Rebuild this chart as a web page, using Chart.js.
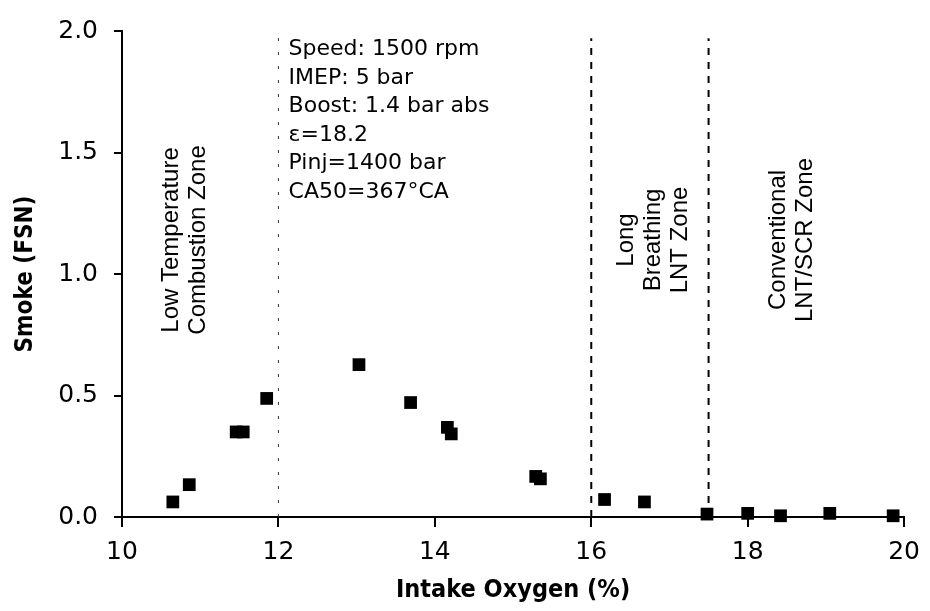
<!DOCTYPE html>
<html>
<head>
<meta charset="utf-8">
<script src="https://cdn.jsdelivr.net/npm/chart.js@4.4.1/dist/chart.umd.min.js"></script>
<style>
  body { margin: 0; background: #fff; }
  #wrap { width: 930px; height: 611px; }
</style>
</head>
<body>
<div id="wrap"><canvas id="smoke-chart" width="930" height="611"></canvas></div>
<script>
// intake oxygen (%) vs smoke (FSN)
const oxygen = [10.65, 10.86, 11.46, 11.55, 11.85, 13.03, 13.69, 14.16, 14.21, 15.29, 15.35, 16.17, 16.68, 17.48, 18.00, 18.42, 19.05, 19.86];
const smoke = [0.062, 0.133, 0.35, 0.35, 0.488, 0.627, 0.471, 0.369, 0.342, 0.167, 0.157, 0.072, 0.062, 0.012, 0.015, 0.005, 0.015, 0.005];

const xTicks = [10, 12, 14, 16, 18, 20];
const yTicks = [0, 0.5, 1.0, 1.5, 2.0];

// zone boundaries
const dottedLineX = 12;
const dashedLinesX = [16, 17.5];

const infoLines = ["Speed: 1500 rpm", "IMEP: 5 bar", "Boost: 1.4 bar abs", "\u03b5=18.2", "Pinj=1400 bar", "CA50=367\u00b0CA"];

const zoneLabels = [
  { x: 10.81, lines: ["Low Temperature", "Combustion Zone"] },
  { x: 16.79, lines: ["Long", "Breathing", "LNT Zone"] },
  { x: 18.56, lines: ["Conventional", "LNT/SCR Zone"] }
];

const tickFont = "DejaVu Sans";
const titleFont = "'DejaVu Sans Condensed', 'DejaVu Sans'";

const points = oxygen.map((x, i) => ({ x: x, y: smoke[i] }));

const lineSets = [
  {
    type: "line",
    data: [{ x: dottedLineX, y: 0 }, { x: dottedLineX, y: 2 }],
    borderColor: "#333",
    borderWidth: 1,
    borderDash: [3, 11],
    pointRadius: 0,
    showLine: true
  }
].concat(dashedLinesX.map(x => ({
  type: "line",
  data: [{ x: x, y: 0 }, { x: x, y: 1.97 }],
  borderColor: "#000",
  borderWidth: 2,
  borderDash: [7, 7],
  pointRadius: 0,
  showLine: true
})));

const textPlugin = {
  id: "zoneText",
  afterDatasetsDraw(chart) {
    const ctx = chart.ctx;
    const xs = chart.scales.x;
    const ys = chart.scales.y;
    ctx.save();
    ctx.fillStyle = "#000";

    // run conditions block
    ctx.font = "22px " + tickFont;
    ctx.textAlign = "left";
    ctx.textBaseline = "middle";
    const left = xs.getPixelForValue(12.13);
    const top = ys.getPixelForValue(1.925);
    infoLines.forEach((t, i) => ctx.fillText(t, left, top + i * 28.6));

    // rotated zone labels
    ctx.font = "24px 'Liberation Sans'";
    ctx.textAlign = "center";
    const midY = ys.getPixelForValue(1.14);
    zoneLabels.forEach(z => {
      const cx = xs.getPixelForValue(z.x);
      const n = z.lines.length;
      z.lines.forEach((t, i) => {
        const px = cx + (i - (n - 1) / 2) * 27;
        ctx.save();
        ctx.translate(px, midY);
        ctx.rotate(-Math.PI / 2);
        ctx.fillText(t, 0, 0);
        ctx.restore();
      });
    });
    ctx.restore();
  }
};

new Chart(document.getElementById("smoke-chart").getContext("2d"), {
  type: "scatter",
  data: {
    datasets: [
      {
        label: "Smoke",
        data: points,
        pointStyle: "rect",
        pointRadius: 9,
        pointHoverRadius: 9,
        backgroundColor: "#000",
        borderColor: "#000",
        borderWidth: 0,
        clip: false
      }
    ].concat(lineSets)
  },
  options: {
    responsive: false,
    animation: false,
    events: [],
    layout: { padding: { top: 18, right: 23, left: 0, bottom: 0 } },
    plugins: {
      legend: { display: false },
      tooltip: { enabled: false }
    },
    scales: {
      x: {
        type: "linear",
        min: 10,
        max: 20,
        afterBuildTicks: axis => { axis.ticks = xTicks.map(v => ({ value: v })); },
        afterFit: axis => { axis.height = 94; },
        ticks: {
          color: "#000",
          font: { family: tickFont, size: 25 },
          padding: 10,
          maxRotation: 0
        },
        grid: { display: true, drawOnChartArea: false, drawTicks: true, tickLength: 10, color: "#000", lineWidth: 2 },
        border: { display: true, color: "#000", width: 2 },
        title: {
          display: true,
          text: "Intake Oxygen (%)",
          color: "#000",
          font: { family: titleFont, size: 25, weight: "bold" },
          padding: { top: 0, bottom: 6 }
        }
      },
      y: {
        type: "linear",
        min: 0,
        max: 2,
        afterBuildTicks: axis => { axis.ticks = yTicks.map(v => ({ value: v })); },
        afterFit: axis => { axis.width = 122; },
        ticks: {
          color: "#000",
          font: { family: tickFont, size: 25 },
          padding: 16,
          callback: v => v.toFixed(1)
        },
        grid: { display: true, drawOnChartArea: false, drawTicks: true, tickLength: 8, color: "#000", lineWidth: 2 },
        border: { display: true, color: "#000", width: 2 },
        title: {
          display: true,
          text: "Smoke (FSN)",
          color: "#000",
          font: { family: titleFont, size: 24, weight: "bold" },
          padding: { top: 11, bottom: 0 }
        }
      }
    }
  },
  plugins: [textPlugin]
});
</script>
</body>
</html>
